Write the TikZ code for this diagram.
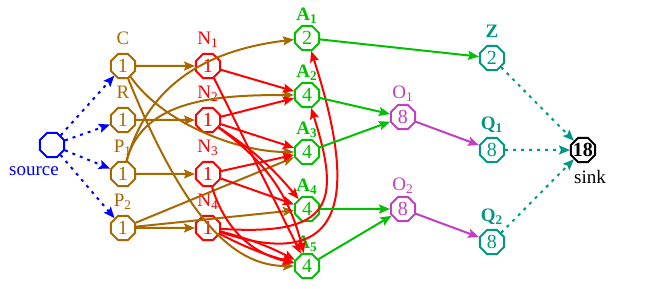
\documentclass[tikz,border=0pt]{standalone}
\usepackage{fontspec}
\setmainfont{Liberation Serif}
\usetikzlibrary{arrows.meta,positioning,shapes.geometric}

\definecolor{brownC}{RGB}{168,104,0}
\definecolor{greenA}{RGB}{0,192,0}
\definecolor{purpleO}{RGB}{192,64,192}
\definecolor{tealQ}{RGB}{0,153,128}
\definecolor{blueS}{RGB}{0,0,255}

\begin{document}
\begin{tikzpicture}[
    node distance=27pt, on grid,
    oct/.style={regular polygon, regular polygon sides=8, draw, line width=1pt, minimum size=13pt, inner sep=0pt, font=\fontsize{10}{12}\selectfont},
    every label/.style={font=\fontsize{9.5}{11}\selectfont, text depth=0pt},
    brn/.style={oct, draw=brownC, text=brownC, label={[brownC, label distance=0.5pt]above:#1}},
    rdn/.style={oct, draw=red, text=red, label={[red, label distance=0.5pt]above:#1}},
    grn/.style={oct, draw=greenA, text=greenA, label={[greenA, label distance=-1.5pt, font=\fontsize{9.5}{11}\selectfont\bfseries]above:#1}},
    pur/.style={oct, draw=purpleO, text=purpleO, label={[purpleO, label distance=-1pt]above:#1}},
    tel/.style={oct, draw=tealQ, text=tealQ, label={[tealQ, label distance=0pt, font=\fontsize{9.5}{11}\selectfont\bfseries]above:#1}},
    arr/.style={line width=1pt, -{Stealth[length=5.5pt,width=4.5pt,inset=1pt]}},
    brE/.style={arr, brownC},
    redE/.style={arr, red},
    grnE/.style={arr, greenA},
    purE/.style={arr, purpleO},
    dotE/.style={arr, dash pattern=on 1.5pt off 2.5pt}
]
% Nodes
\node[oct, draw=blueS, label={[blueS, xshift=-9pt, label distance=0.5pt]below:source}] (src) {};
\useasboundingbox (-26pt,-72pt) rectangle (299pt,72.5pt);

\node[brn=C, above right=39.5pt and 35.5pt of src] (C) {1};
\node[brn=R, below=of C] (R) {1};
\node[brn=P\textsubscript{1}, below=of R] (P1) {1};
\node[brn=P\textsubscript{2}, below=of P1] (P2) {1};

\node[rdn=N\textsubscript{1}, right=42.5pt of C] (N1) {1};
\node[rdn=N\textsubscript{2}, right=42.5pt of R] (N2) {1};
\node[rdn=N\textsubscript{3}, right=42.5pt of P1] (N3) {1};
\node[rdn=N\textsubscript{4}, right=42.5pt of P2] (N4) {1};

\node[grn=A\textsubscript{1}, above right=14pt and 49.5pt of N1] (A1) {2};
\node[grn=A\textsubscript{2}, below=28.5pt of A1] (A2) {4};
\node[grn=A\textsubscript{3}, below=28.5pt of A2] (A3) {4};
\node[grn=A\textsubscript{4}, below=28.5pt of A3] (A4) {4};
\node[grn=A\textsubscript{5}, below=28.5pt of A4] (A5) {4};

\node[pur=O\textsubscript{1}, below right=11pt and 48pt of A2] (O1) {8};
\node[pur=O\textsubscript{2}, right=48pt of A4] (O2) {8};

\node[tel=Z, below right=10pt and 92.5pt of A1] (Z) {2};
\node[tel=Q\textsubscript{1}, below=46pt of Z] (Q1) {8};
\node[tel=Q\textsubscript{2}, below=46pt of Q1] (Q2) {8};

\node[oct, draw=black, inner sep=-1.5pt, font=\fontsize{10}{12}\selectfont\bfseries, right=45.5pt of Q1,
      label={[xshift=3.5pt, label distance=0pt]below:sink}] (sink) {18};

% Arrows
\foreach \t in {C,R,P1,P2}
  \draw[dotE, blueS] (src) -- (\t);

\draw[brE] (C) -- (N1);
\draw[brE] (R) -- (N2);
\draw[brE] (P1) -- (N3);
\draw[brE] (P2) -- (N4);
\draw[brE] (C) .. controls +(20pt,-28.5pt) and +(-35pt,0pt) .. (A3);
\draw[brE] (C) .. controls +(32.5pt,-80pt) and +(-35pt,0pt) .. (A5);
\draw[brE] (P1) .. controls +(12.5pt,45pt) and +(-50pt,-6pt) .. (A1);
\draw[brE] (P1) .. controls +(10pt,37.5pt) and +(-45pt,0pt) .. (A2);
\draw[brE] (P2) -- (A3);
\draw[brE] (P2) -- (A4);

\draw[redE] (N1) -- (A2);
\draw[redE] (N1) -- (A5);
\draw[redE] (N2) -- (A2);
\draw[redE] (N2) -- (A3);
\draw[redE] (N2) to[bend left=8] (A4);
\draw[redE] (N2) to[bend left=20] (A5);
\draw[redE] (N3) -- (A3);
\draw[redE] (N3) -- (A4);
\draw[redE] (N3) to[bend right=30] (A5);
\draw[redE] (N4) to[bend left=6] (A5);
\draw[redE] (N4) to[bend right=6] (A5);
\draw[redE] (N4) .. controls +(75pt,-25pt) and +(22.5pt,-70pt) .. (A1);
\draw[redE] (N4) .. controls +(61.5pt,-4pt) and +(17.5pt,-55pt) .. (A2);

\draw[grnE] (A1) -- (Z);
\draw[grnE] (A2) -- (O1);
\draw[grnE] (A3) -- (O1);
\draw[grnE] (A4) -- (O2);
\draw[grnE] (A5) -- (O2);

\draw[purE] (O1) -- (Q1);
\draw[purE] (O2) -- (Q2);

\foreach \t in {Z,Q1,Q2}
  \draw[dotE, tealQ] (\t) -- (sink);
\end{tikzpicture}
\end{document}
